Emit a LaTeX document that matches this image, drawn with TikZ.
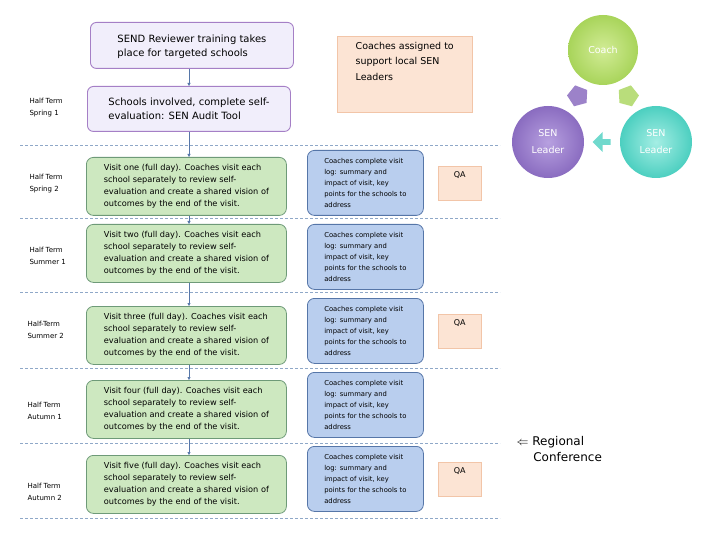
\documentclass[tikz,border=0pt]{standalone}
\usepackage{fontspec}
\setmainfont{DejaVu Sans}
\usetikzlibrary{shapes.geometric,shapes.arrows,arrows.meta}
\definecolor{pfill}{HTML}{F1EEFB}\definecolor{pdraw}{HTML}{A57FC6}
\definecolor{gfill}{HTML}{CDE8C0}\definecolor{gdraw}{HTML}{6E9A78}
\definecolor{bfill}{HTML}{B9CEEE}\definecolor{bdraw}{HTML}{5676A8}
\definecolor{ofill}{HTML}{FCE4D4}\definecolor{odraw}{HTML}{F2C5A8}
\definecolor{dashcol}{HTML}{8FA8C8}
\definecolor{cg}{HTML}{A8D45A}\definecolor{cgl}{HTML}{D2EC96}
\definecolor{cp}{HTML}{8A6CC0}\definecolor{cpl}{HTML}{B7A0E0}
\definecolor{ct}{HTML}{4CCFC0}\definecolor{ctl}{HTML}{A4EEE4}
\begin{document}
\begin{tikzpicture}[x=1pt,y=-1pt,
 pbox/.style={draw=pdraw,fill=pfill,rounded corners=6,line width=0.9pt,align=left,anchor=north west,inner sep=7pt,font=\fontsize{10}{14}\selectfont,text depth=0pt},
 gbox/.style={draw=gdraw,fill=gfill,rounded corners=7,line width=0.8pt,align=left,minimum width=200pt,minimum height=58pt,anchor=north west,inner sep=5pt,font=\fontsize{8.2}{12}\selectfont},
 bbox/.style={draw=bdraw,fill=bfill,rounded corners=7,line width=0.8pt,align=left,minimum width=116pt,minimum height=65pt,anchor=north west,inner sep=4pt,font=\fontsize{6.8}{11}\selectfont},
 qa/.style={draw=odraw,fill=ofill,minimum width=43pt,minimum height=34pt,anchor=north west,align=left,font=\fontsize{8}{10}\selectfont,text depth=18pt,inner sep=5pt},
 lab/.style={anchor=west,align=left,font=\fontsize{7}{12}\selectfont},
 dl/.style={dashcol,densely dashed,line width=0.6pt},
 ar/.style={-{Triangle[length=3pt,width=3pt]},bdraw,line width=0.5pt},
 circ/.style={circle,minimum size=72pt,text=white,font=\fontsize{9.5}{17}\selectfont,align=center}]
\useasboundingbox (0,0) rectangle (720,540);
\foreach \y in {145,218,292,368,443,518}{\draw[dl] (20,\y) -- (500,\y);}
\node[pbox,minimum width=203pt,minimum height=46pt] (p1) at (90,22) {SEND Reviewer training takes\\place for targeted schools};
\node[pbox,minimum width=203pt,minimum height=45pt] (p2) at (87,86) {Schools involved, complete self-\\evaluation: SEN Audit Tool};
\node[draw=odraw,fill=ofill,anchor=north west,minimum width=135pt,minimum height=74pt,align=left,text depth=26pt,inner sep=6pt,font=\fontsize{9.5}{15.5}\selectfont] (o) at (337,36) {Coaches assigned to\\support local SEN\\Leaders};
\node[lab] (l1) at (26,108) {Half Term\\Spring 1};
\node[lab] (l2) at (26,184) {Half Term\\Spring 2};
\node[lab] (l3) at (26,256) {Half Term\\Summer 1};
\node[lab] (l4) at (24,330) {Half-Term\\Summer 2};
\node[lab] (l5) at (24,411) {Half Term\\Autumn 1};
\node[lab] (l6) at (24,492) {Half Term\\Autumn 2};
\foreach \n/\w/\y in {1/one/157,2/two/224,3/three/306,4/four/380,5/five/455}{
 \node[gbox] (g\n) at (86,\y) {Visit \w\ (full day). Coaches visit each\\school separately to review self-\\evaluation and create a shared vision of\\outcomes by the end of the visit.};}
\foreach \n/\y in {1/150,2/224,3/298,4/372,5/446}{
 \node[bbox] (b\n) at (307,\y) {Coaches complete visit\\log: summary and\\impact of visit, key\\points for the schools to\\address};}
\node[qa] (q1) at (438,166) {QA};
\node[qa] (q3) at (438,314) {QA};
\node[qa] (q5) at (438,462) {QA};
\draw[ar] (p1.south -| 189,0) -- (p2.north -| 189,0);
\draw[ar] (p2.south -| 189,0) -- (g1.north -| 189,0);
\draw[ar] (g1.south -| 189,0) -- (g2.north -| 189,0);
\draw[ar] (g2.south -| 189,0) -- (g3.north -| 189,0);
\draw[ar] (g3.south -| 189,0) -- (g4.north -| 189,0);
\draw[ar] (g4.south -| 189,0) -- (g5.north -| 189,0);
\shade[inner color=cgl,outer color=cg] (603,50) circle (35);
\node[circ] (c) at (603,50) {Coach};
\shade[inner color=cpl,outer color=cp] (548,142) circle (36);
\node[circ] (s1) at (548,142) {SEN\\Leader};
\shade[inner color=ctl,outer color=ct] (656,142) circle (36);
\node[circ] (s2) at (656,142) {SEN\\Leader};
\node[regular polygon,regular polygon sides=5,fill=cp!85!white,minimum size=22pt,inner sep=0pt,rotate=15] (a1) at (578,96) {};
\node[regular polygon,regular polygon sides=5,fill=cg!80!white,minimum size=22pt,inner sep=0pt,rotate=-15] (a2) at (628,96) {};
\node[single arrow,shape border rotate=180,fill=ct!80!white,minimum height=18pt,minimum width=20pt,single arrow head extend=3pt,inner sep=1pt] (a3) at (603,142) {};
\node[anchor=north west,align=left,font=\fontsize{12}{16}\selectfont] (rc) at (513,433) {$\Leftarrow$\ Regional\\\hspace*{1.4em}Conference};
\end{tikzpicture}
\end{document}
